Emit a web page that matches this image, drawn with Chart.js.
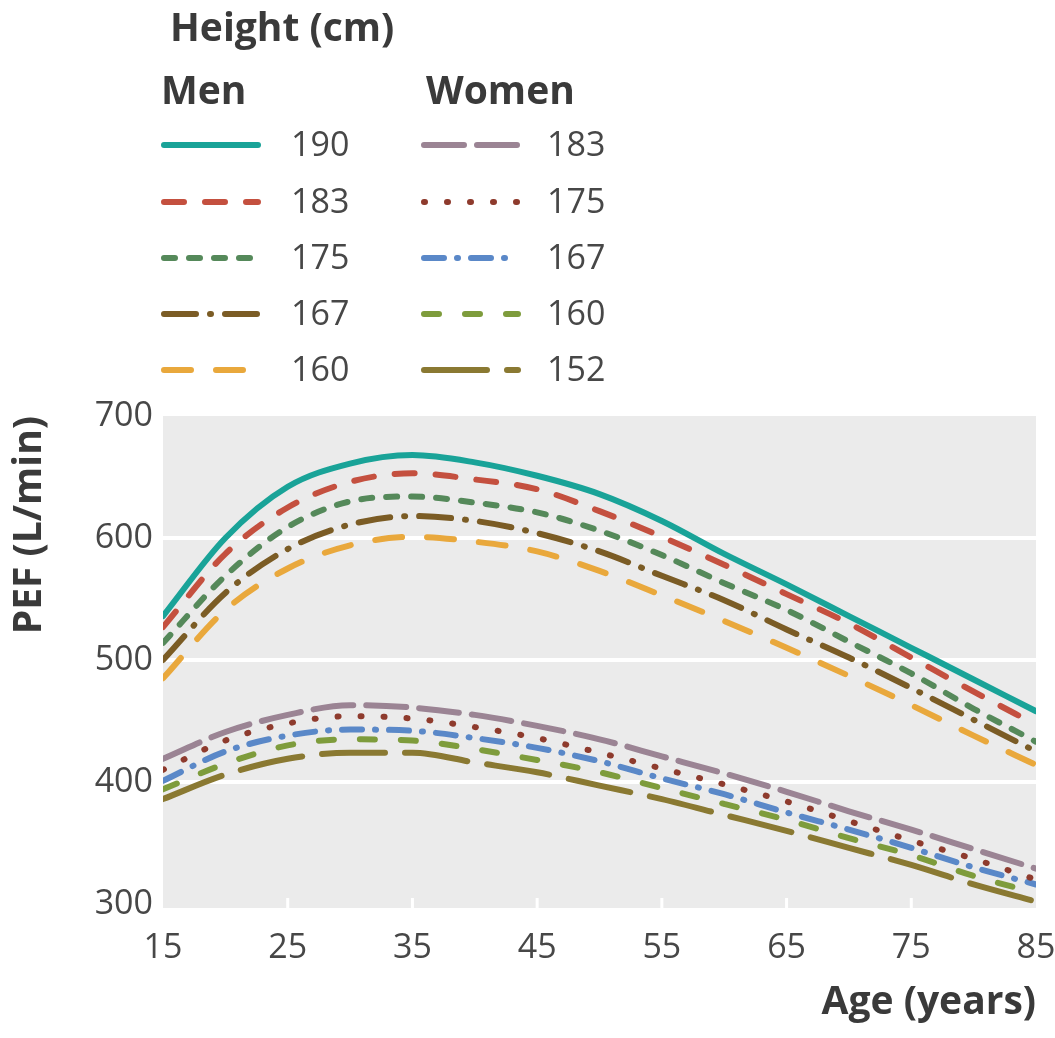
<!DOCTYPE html>
<html>
<head>
<meta charset="utf-8">
<script src="https://cdn.jsdelivr.net/npm/chart.js@4/dist/chart.umd.min.js"></script>
<style>
  body { margin: 0; background: #fff; }
  canvas { display: block; }
</style>
</head>
<body>
<canvas id="pef-chart" width="1055" height="1038"></canvas>
<script>
const ages = [15, 20, 25, 30, 35, 40, 45, 50, 55, 60, 65, 70, 75, 80, 85];
const yTicks = [300, 400, 500, 600, 700];

// men, by height (cm)
const men190 = [536, 600, 642, 661, 668, 662, 651, 636, 614, 587, 562, 536, 510, 484, 458];
const men183 = [527, 587, 625, 646, 653, 648, 640, 622, 601, 578, 554, 530, 502, 474, 447];
const men175 = [514, 569, 609, 630, 634, 629, 621, 606, 586, 563, 541, 515, 489, 460, 433];
const men167 = [500, 555, 591, 611, 618, 614, 604, 589, 569, 549, 525, 502, 477, 451, 425];
const men160 = [485, 541, 575, 594, 601, 597, 589, 573, 553, 532, 510, 487, 463, 438, 414];

// women, by height (cm)
const women183 = [419, 441, 455, 463, 461, 455, 446, 435, 421, 407, 392, 376, 361, 345, 329];
const women175 = [410, 434, 448, 454, 452, 445, 436, 424, 411, 398, 384, 368, 352, 337, 320];
const women167 = [401, 425, 438, 443, 442, 436, 428, 417, 403, 390, 375, 361, 346, 330, 316];
const women160 = [394, 415, 430, 435, 434, 427, 418, 408, 395, 382, 369, 354, 340, 323, 309];
const women152 = [386, 406, 419, 424, 424, 416, 408, 397, 386, 373, 360, 346, 332, 316, 302];

const FONT = "'Open Sans', sans-serif";
const TEXT = '#474747';
const HEAD = '#3a3a3a';

function series(label, group, values, color, dash) {
    return {
        label: label,
        group: group,
        data: ages.map((a, i) => ({ x: a, y: values[i] })),
        borderColor: color,
        borderWidth: 6,
        borderDash: dash,
        borderCapStyle: 'round',
        pointRadius: 0,
        fill: false,
        cubicInterpolationMode: 'monotone'
    };
}

const datasets = [
    series('190', 'men', men190, '#19a398', []),
    series('183', 'men', men183, '#c4503f', [20, 21]),
    series('175', 'men', men175, '#55895a', [11, 14]),
    series('167', 'men', men167, '#7b5c25', [32, 14, 1, 14]),
    series('160', 'men', men160, '#e9a83c', [27, 25]),
    series('183', 'women', women183, '#9b8494', [40, 13]),
    series('175', 'women', women175, '#8e3b2d', [1, 22]),
    series('167', 'women', women167, '#5a88c8', [20, 13, 1, 13]),
    series('160', 'women', women160, '#7e9c3c', [15, 26]),
    series('152', 'women', women152, '#8a7932', [63, 20])
];

const backdrop = {
    id: 'backdrop',
    beforeDraw(chart) {
        const { ctx, chartArea: a } = chart;
        ctx.save();
        ctx.fillStyle = '#ebebeb';
        ctx.fillRect(a.left, a.top, a.right - a.left, a.bottom - a.top + 4);
        ctx.restore();
    },
    beforeDatasetsDraw(chart) {
        const { ctx, chartArea: a, scales } = chart;
        ctx.save();
        ctx.strokeStyle = '#ffffff';
        ctx.lineWidth = 3;
        [25, 35, 45, 55, 65, 75].forEach(v => {
            const x = scales.x.getPixelForValue(v);
            ctx.beginPath();
            ctx.moveTo(x, a.bottom + 4);
            ctx.lineTo(x, a.bottom - 6);
            ctx.stroke();
        });
        ctx.restore();
    }
};

const heightLegend = {
    id: 'heightLegend',
    afterDraw(chart) {
        const ctx = chart.ctx;
        ctx.save();
        ctx.textBaseline = 'middle';
        ctx.fillStyle = HEAD;
        ctx.font = 'bold 39px ' + FONT;
        ctx.fillText('Height (cm)', 170, 30);
        ctx.fillText('Men', 161, 93);
        ctx.fillText('Women', 426, 93);

        const rows = [145, 202, 258, 314, 370];
        const cols = { men: { x0: 164, x1: 258, tx: 291 }, women: { x0: 424, x1: 518, tx: 547 } };
        const count = { men: 0, women: 0 };
        chart.data.datasets.forEach(ds => {
            const c = cols[ds.group];
            const y = rows[count[ds.group]++];
            ctx.beginPath();
            ctx.setLineDash(ds.borderDash);
            ctx.lineCap = 'round';
            ctx.lineWidth = 6;
            ctx.strokeStyle = ds.borderColor;
            ctx.moveTo(c.x0, y);
            ctx.lineTo(c.x1, y);
            ctx.stroke();
            ctx.setLineDash([]);
            ctx.fillStyle = TEXT;
            ctx.font = '34px ' + FONT;
            ctx.fillText(ds.label, c.tx, y + 1);
        });
        ctx.restore();
    }
};

new Chart(document.getElementById('pef-chart'), {
    type: 'line',
    data: { datasets: datasets },
    plugins: [backdrop, heightLegend],
    options: {
        responsive: false,
        animation: false,
        layout: { padding: { top: 416, right: 19, left: 0, bottom: 0 } },
        plugins: {
            legend: { display: false },
            tooltip: { enabled: false }
        },
        scales: {
            x: {
                type: 'linear',
                min: 15,
                max: 85,
                afterFit(scale) {
                    scale.height = 134;
                    scale.paddingRight = 0;
                    scale.paddingLeft = 0;
                },
                afterBuildTicks(scale) { scale.ticks = ages.filter(a => (a - 15) % 10 === 0).map(v => ({ value: v })); },
                grid: { display: false },
                border: { display: false },
                ticks: { padding: 16, color: TEXT, font: { family: FONT, size: 34 }, maxRotation: 0 },
                title: {
                    display: true,
                    text: 'Age (years)',
                    align: 'end',
                    color: HEAD,
                    font: { family: FONT, size: 39, weight: 'bold' },
                    padding: { top: 0, bottom: 12 }
                }
            },
            y: {
                min: 300,
                max: 700,
                afterFit(scale) { scale.width = 163; },
                afterBuildTicks(scale) { scale.ticks = yTicks.map(v => ({ value: v })); },
                grid: {
                    color: '#ffffff',
                    lineWidth: ctx => (ctx.tick && (ctx.tick.value === 300 || ctx.tick.value === 700)) ? 0 : 4,
                    drawTicks: false
                },
                border: { display: false },
                ticks: { padding: 10, color: TEXT, font: { family: FONT, size: 34 } },
                title: {
                    display: true,
                    text: 'PEF (L/min)',
                    align: 'end',
                    color: HEAD,
                    font: { family: FONT, size: 39, weight: 'bold' },
                    padding: { top: 6, bottom: 0 }
                }
            }
        }
    }
});
</script>
</body>
</html>
